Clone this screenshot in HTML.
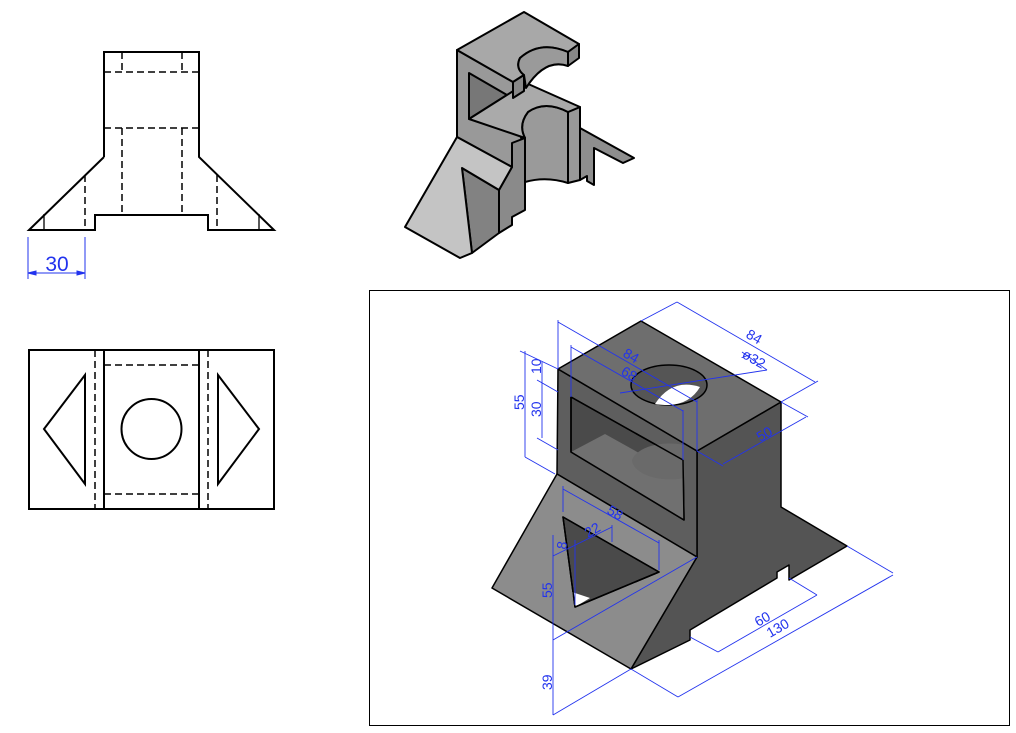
<!DOCTYPE html>
<html><head><meta charset="utf-8"><style>
html,body{margin:0;padding:0;background:#fff;width:1016px;height:733px;overflow:hidden}
svg{display:block}
text{font-family:"Liberation Sans",sans-serif}
</style></head><body>
<svg width="1016" height="733" viewBox="0 0 1016 733" xmlns="http://www.w3.org/2000/svg">
<!-- FRONT VIEW -->
<g stroke="#000" stroke-width="2" fill="none">
<polyline points="104,157 104,52 199,52 199,157 274,230 208,230 208,215 95,215 95,230 29,230 104,157"/>
<line x1="44" y1="214" x2="44" y2="230" stroke-width="1.3"/>
<line x1="259" y1="214" x2="259" y2="230" stroke-width="1.3"/>
</g>
<g stroke="#000" stroke-width="1.5" fill="none" stroke-dasharray="7,4">
<line x1="122" y1="52" x2="122" y2="72"/><line x1="182" y1="52" x2="182" y2="72"/>
<line x1="104" y1="72" x2="199" y2="72"/>
<line x1="104" y1="128" x2="199" y2="128"/>
<line x1="122" y1="128" x2="122" y2="215"/><line x1="182" y1="128" x2="182" y2="215"/>
<line x1="85" y1="175" x2="85" y2="230"/><line x1="217" y1="175" x2="217" y2="230"/>
</g>
<g stroke="#2233ee" stroke-width="1" fill="#2233ee">
<line x1="28" y1="237" x2="28" y2="279"/><line x1="85" y1="237" x2="85" y2="279"/>
<line x1="28" y1="273" x2="85" y2="273"/>
<polygon points="28,273 36,271 36,275"/><polygon points="85,273 77,271 77,275"/>
</g>
<text x="57" y="271" font-size="21" fill="#2233ee" text-anchor="middle">30</text>
<!-- TOP VIEW -->
<g stroke="#000" stroke-width="2" fill="none">
<rect x="29" y="350" width="245" height="159"/>
<line x1="104" y1="350" x2="104" y2="509"/><line x1="199" y1="350" x2="199" y2="509"/>
<circle cx="151.5" cy="429" r="30"/>
<polygon points="44,429 85,375 85,484"/>
<polygon points="218,375 259,429 218,484"/>
</g>
<g stroke="#000" stroke-width="1.5" fill="none" stroke-dasharray="7,4">
<line x1="95" y1="350" x2="95" y2="509"/><line x1="208" y1="350" x2="208" y2="509"/>
<line x1="104" y1="365" x2="199" y2="365"/><line x1="104" y1="494" x2="199" y2="494"/>
</g>
<!-- SMALL ISO -->
<g stroke="#000" stroke-width="2" stroke-linejoin="round">
<polygon points="580,128 634,158 623,163 594,148 594,185 587,181 587,176 580,180" fill="#8e8e8e"/>
<polygon points="568,112 580,107 580,180 568,183" fill="#999"/>
<path d="M525,138 Q518,125 528,112 Q545,100 568,112 L568,183 Q546,176 525,182 Z" fill="#9a9a9a"/>
<polygon points="457,50 513,82 513,100 522,142 512,145 512,167 457,137" fill="#999"/>
<polygon points="469,73 507,95 469,119" fill="#777"/>
<path d="M469,119 L526,83 L580,107 L568,112 Q545,100 528,112 Q518,125 525,138 Z" fill="#aaa"/>
<polygon points="499,190 512,167 512,143 525,138 525,210 512,217 512,225 499,233" fill="#8a8a8a"/>
<polygon points="462,168 499,190 499,233 472,253" fill="#828282"/>
<polygon points="457,137 512,167 499,190 462,168 472,253 460,258 405,227" fill="#c4c4c4"/>
<path d="M457,50 L524,12 L579,44 L568,52 Q540,40 520,58 Q515,68 524,75 L513,82 Z" fill="#a8a8a8"/>
<path d="M524,75 Q515,68 520,58 Q540,40 568,52 L568,66 Q545,58 526,88 Z" fill="#9a9a9a"/>
<polygon points="513,82 524,75 524,91 513,98" fill="#888"/>
<polygon points="568,52 579,44 579,58 568,66" fill="#888"/>
</g>
<!-- FRAME -->
<rect x="369.5" y="290.5" width="640" height="435" fill="none" stroke="#000" stroke-width="1"/>
<!-- MAIN ISO -->
<g stroke="#000" stroke-width="1.5" stroke-linejoin="round">
<polygon points="697,451 781,402 781,507 847,546 789,580 789,565 777,572 777,578 690,630 690,640 631,669 697,557" fill="#545454"/>
<polygon points="558,369 697,451 697,557 557,474" fill="#5e5e5e"/>
<polygon points="571,397 683,460 684,520 571,452" fill="#4a4a4a"/>
<polygon points="571,452 605,434 684,478 684,520" fill="#707070" stroke="none"/>
<path d="M632,460 A38,20 0 0 1 684,445 L684,478 A38,20 0 0 1 632,460 Z" fill="#6a6a6a" stroke="none"/>
<polygon points="571,397 683,460 684,520 571,452" fill="none"/>
<polygon points="558,369 641,321 781,402 697,451" fill="#6e6e6e"/>
<ellipse cx="669" cy="385" rx="38" ry="20" fill="#555"/>
<path d="M655,404 Q672,378 700,387 Q690,404 669,405 Q660,405 655,404 Z" fill="#fff" stroke="none"/>
<polygon points="557,474 697,557 631,669 492,588" fill="#8c8c8c"/>
<polygon points="563,517 659,572 575,607" fill="#4a4a4a"/>
<polygon points="572,592 590,598 575,607" fill="#fff" stroke="none"/>
<polygon points="563,517 659,572 575,607" fill="none"/>
</g>
<!-- DIMENSIONS -->
<g stroke="#2233ee" stroke-width="0.9" fill="none">
<line x1="641" y1="321" x2="677" y2="302"/><line x1="781" y1="402" x2="818" y2="381"/>
<line x1="677" y1="302" x2="815" y2="382"/>
<line x1="558" y1="369" x2="558" y2="320"/><line x1="697" y1="399" x2="697" y2="451"/>
<line x1="558" y1="322" x2="697" y2="402"/>
<line x1="571" y1="397" x2="571" y2="345"/><line x1="683" y1="410" x2="683" y2="460"/>
<line x1="571" y1="347" x2="683" y2="411"/>
<line x1="620" y1="393" x2="767" y2="370"/><line x1="767" y1="370" x2="742" y2="352"/>
<line x1="525" y1="351" x2="525" y2="457"/><line x1="520" y1="351" x2="558" y2="369"/><line x1="525" y1="457" x2="555" y2="474"/>
<line x1="542" y1="362" x2="542" y2="438"/><line x1="537" y1="380" x2="558" y2="392"/><line x1="537" y1="438" x2="558" y2="450"/>
<line x1="697" y1="451" x2="723" y2="466"/><line x1="781" y1="402" x2="808" y2="417"/>
<line x1="723" y1="464" x2="806" y2="417"/>
<line x1="563" y1="489" x2="659" y2="543"/><line x1="563" y1="486" x2="563" y2="512"/><line x1="659" y1="540" x2="659" y2="570"/>
<line x1="553" y1="556" x2="612" y2="527"/><line x1="612" y1="525" x2="612" y2="542"/><line x1="575" y1="540" x2="575" y2="605"/>
<line x1="553" y1="535" x2="553" y2="715"/><line x1="553" y1="640" x2="697" y2="557"/><line x1="553" y1="715" x2="631" y2="669"/>
<line x1="690" y1="637" x2="718" y2="652"/><line x1="789" y1="578" x2="817" y2="595"/>
<line x1="718" y1="652" x2="817" y2="595"/>
<line x1="631" y1="669" x2="678" y2="697"/><line x1="847" y1="546" x2="893" y2="573"/>
<line x1="678" y1="697" x2="893" y2="575"/>
</g>
<g fill="#2233ee" font-size="14">
<text transform="translate(745,337) rotate(30)">84</text>
<text transform="translate(622,356) rotate(30)">84</text>
<text transform="translate(620,374) rotate(30)">68</text>
<text transform="translate(741,357) rotate(30)">ø32</text>
<text transform="translate(524,410) rotate(-90)">55</text>
<text transform="translate(541,417) rotate(-90)">30</text>
<text transform="translate(541,374) rotate(-90)">10</text>
<text transform="translate(760,442) rotate(-30)">50</text>
<text transform="translate(606,513) rotate(30)">58</text>
<text transform="translate(588,538) rotate(-30)">22</text>
<text transform="translate(566,550) rotate(-80)">8</text>
<text transform="translate(552,598) rotate(-90)">55</text>
<text transform="translate(552,690) rotate(-90)">39</text>
<text transform="translate(758,627) rotate(-30)">60</text>
<text transform="translate(770,638) rotate(-30)">130</text>
</g>
</svg>
</body></html>
